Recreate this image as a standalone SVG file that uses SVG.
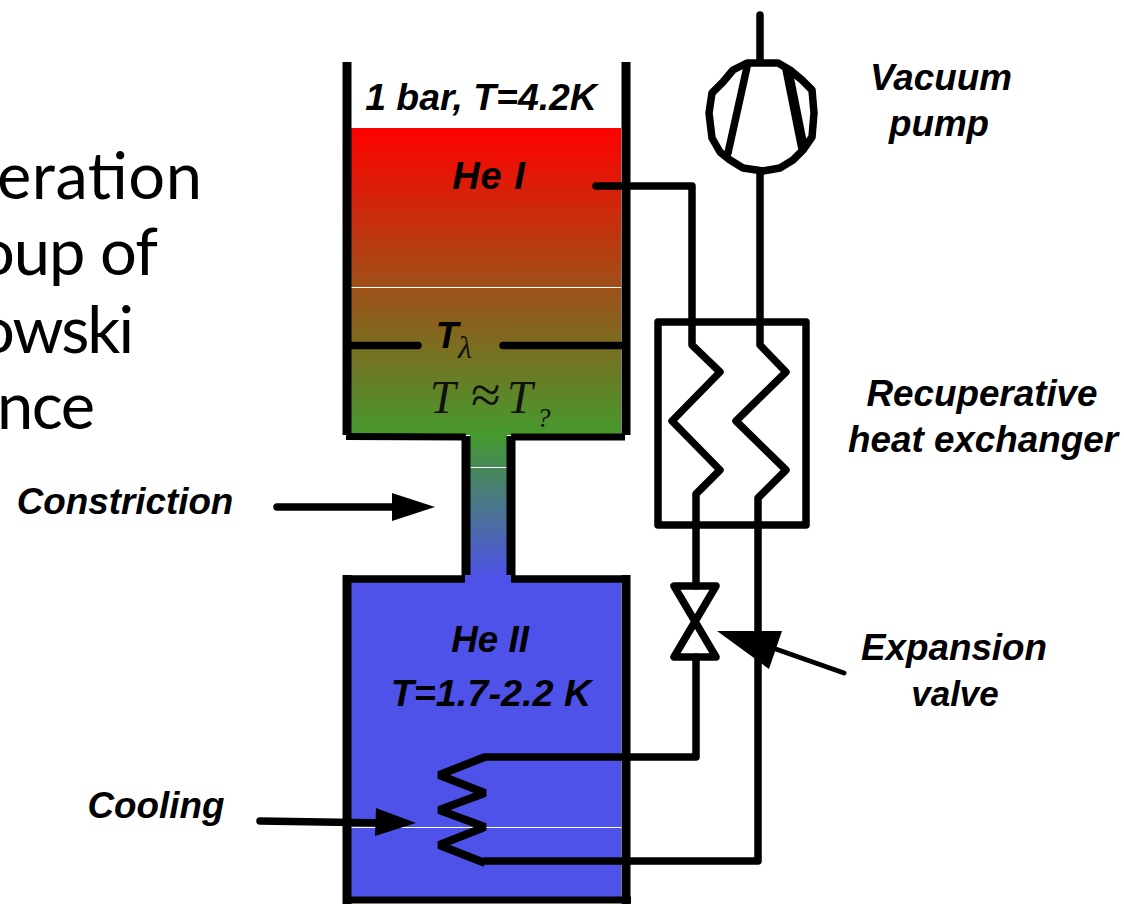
<svg xmlns="http://www.w3.org/2000/svg" width="1124" height="904" viewBox="0 0 1124 904">
<defs>
<linearGradient id="top" gradientUnits="userSpaceOnUse" x1="0" y1="128" x2="0" y2="435"><stop offset="0" stop-color="#ff0000"/><stop offset="1" stop-color="#459a2e"/></linearGradient>
<linearGradient id="neck" gradientUnits="userSpaceOnUse" x1="0" y1="435" x2="0" y2="578"><stop offset="0" stop-color="#459a2e"/><stop offset="1" stop-color="#4f52e8"/></linearGradient>
</defs>
<style>
.l{font-family:"Liberation Sans",Arial,sans-serif;font-weight:700;font-style:italic;font-size:36.8px;fill:#000;text-anchor:middle}
.bg{font-family:Lato,"Noto Sans",sans-serif;font-weight:400;font-size:65px;fill:#000}
.s{fill:none;stroke:#000;stroke-width:7.5;stroke-linejoin:round;stroke-linecap:round}
.w{fill:none;stroke:#000;stroke-width:9}
.t{font-family:"Liberation Serif",serif;font-style:italic;fill:#111}
</style>
<rect width="1124" height="904" fill="#fff"/>
<g id="background-text">
<text class="bg" x="-3" y="199" textLength="205">eration</text>
<text class="bg" x="-22" y="275" textLength="180">oup of</text>
<text class="bg" x="-22" y="353" textLength="156">owski</text>
<text class="bg" x="-3" y="429" textLength="98">nce</text>
</g>
<g id="upper-vessel">
<rect x="351" y="128" width="270" height="307" fill="url(#top)"/>
<rect x="351" y="287" width="270" height="1" fill="#fff"/>
<rect x="470" y="433" width="37" height="145" fill="url(#neck)"/>
<rect x="470" y="467" width="37" height="1" fill="#fff"/>
<path class="w" d="M347 62V435M626 62V435"/>
<path d="M346 436.500L466 437M511 437L625 437" fill="none" stroke="#000" stroke-width="7"/>
<path d="M347 345.500H418M503 345.500H621" class="s"/>
<text class="l" x="447" y="348" style="font-size:37px">T</text>
<text class="t" x="458" y="358" style="font-size:32px">λ</text>
<text class="t" x="430" y="413" style="font-size:46px">T</text>
<text class="t" x="471" y="413" style="font-size:54px;font-style:normal">≈</text>
<text class="t" x="507" y="413" style="font-size:46px">T</text>
<text class="t" x="537" y="427" style="font-size:27px">?</text>
<text class="l" x="481" y="110" style="font-size:37.400px">1 bar, T=4.2K</text>
<text class="l" x="489" y="189" style="font-size:38px;letter-spacing:1px">He I</text>
</g>
<g id="constriction">
<path class="w" d="M466 436V579M511 436V579"/>
<text class="l" x="125" y="514">Constriction</text>
</g>
<g id="lower-vessel">
<rect x="351" y="579" width="270" height="321" fill="#4f52e8"/>
<rect x="465" y="575" width="46" height="8" fill="#4f52e8"/>
<rect x="351" y="827" width="270" height="1" fill="#fff"/>
<path class="w" d="M347 575V904M626 575V904"/>
<path d="M346 579H465M511 579H625" fill="none" stroke="#000" stroke-width="7.500"/>
<path d="M343 900H631" fill="none" stroke="#000" stroke-width="7"/>
<text class="l" x="490" y="652">He II</text>
<text class="l" x="491" y="706" style="font-size:37.800px">T=1.7-2.2 K</text>
<text class="l" x="156" y="818">Cooling</text>
</g>
<g id="heat-exchanger">
<rect x="658" y="322" width="148" height="203" fill="none" stroke="#000" stroke-width="7.500" stroke-linejoin="round"/>
<text class="l" x="982" y="406">Recuperative</text>
<text class="l" x="983" y="452">heat exchanger</text>
</g>
<g id="vacuum-pump">
<path class="s" d="M760 15V60M747 63H778L790 70L802 80L812 90L814 113L812 137L803 150L793 160L780 168L763 171L743 168L730 160L720 152L712 138L709 113L712 93L723 82L733 70Z"/>
<path class="s" d="M747 67L728 153"/>
<path d="M787 68L803 148" stroke="#000" stroke-width="10" fill="none"/>
<text class="l" x="941" y="90">Vacuum</text>
<text class="l" x="939" y="136">pump</text>
</g>
<g id="expansion-valve">
<path class="s" d="M674 586H716L674 657H716Z"/>
<text class="l" x="954" y="660">Expansion</text>
<text class="l" x="955" y="706" style="font-size:35px">valve</text>
</g>
<g id="cooling-coil">
<path d="M485 757L439 775L485 793L439 810L485 827L439 845L485 863" fill="none" stroke="#000" stroke-width="8" stroke-linejoin="bevel"/>
</g>
<g id="connectors">
<path class="s" d="M596 186H692V345L720 372L672 421L720 470L696 494V586"/>
<path class="s" d="M696 657V757H485"/>
<path class="s" d="M760 172V345L786 372L736 421L786 470L758 498V861H485"/>
<path class="s" d="M277 507H400"/>
<path d="M392 493L435 507L392 521Z" fill="#000"/>
<path class="s" d="M260 821L385 823"/>
<path d="M376 808L416 823L375 836Z" fill="#000"/>
<path d="M844 673L770 647" fill="none" stroke="#000" stroke-width="5" stroke-linecap="round"/>
<path d="M717 631H782L769 669Z" fill="#000"/>
</g>
</svg>
